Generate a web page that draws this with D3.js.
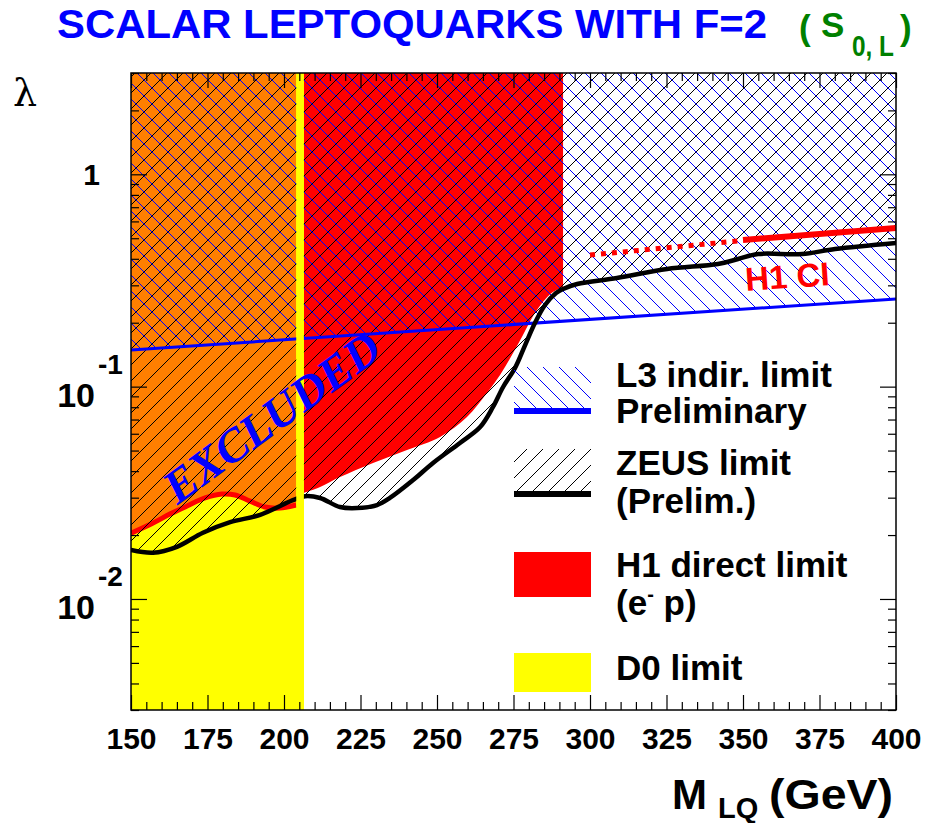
<!DOCTYPE html>
<html>
<head>
<meta charset="utf-8">
<script src="https://cdn.jsdelivr.net/npm/d3@7"></script>
<style>
  body { margin: 0; background: #fff; }
  svg { display: block; }
  text { font-family: "Liberation Sans", Arial, Helvetica, sans-serif; font-weight: bold; }
</style>
</head>
<body>
<svg id="chart" width="928" height="823"></svg>
<script>
// ---- Exclusion limits for scalar leptoquarks with F=2 (S_0,L) ----
// ZEUS (preliminary) upper limit on lambda vs leptoquark mass
const massZeus   = [150, 157.2, 165.0, 173.5, 182.4, 192.2, 202.9, 206.9, 211.8, 218.3, 223.9, 230.4, 234.6, 242.2, 248.7, 257.5, 264.1, 268.3, 271.6, 275.5, 278.8, 282.0, 285.3, 288.9, 291.2, 295.8, 308.8, 325.2, 341.8, 348.4, 354.9, 369.3, 380.1, 400];
const lambdaZeus = [0.0170, 0.0165, 0.0176, 0.0205, 0.0230, 0.0249, 0.0292, 0.0305, 0.0299, 0.0271, 0.0268, 0.0277, 0.0299, 0.0363, 0.0437, 0.0543, 0.0645, 0.0802, 0.0996, 0.1224, 0.157, 0.1994, 0.2424, 0.276, 0.2884, 0.3043, 0.3248, 0.3581, 0.3780, 0.3993, 0.4213, 0.4213, 0.4447, 0.4748];

// H1 direct limit (e- p): part overlapping the D0 exclusion, and the part beyond it
const massH1Low    = [150, 157.2, 162.7, 168.3, 174.2, 179.7, 184.0, 188.9, 193.8, 198.7, 204.0];
const lambdaH1Low  = [0.0204, 0.0228, 0.0251, 0.0274, 0.0299, 0.0312, 0.0309, 0.0289, 0.0271, 0.0268, 0.0277];
const massH1High   = [206.5, 211.8, 218.3, 229.1, 240.2, 251.0, 259.8, 266.3, 270.6, 274.5, 278.1, 281.4, 284.6, 287.9, 291.2];
const lambdaH1High = [0.0316, 0.0337, 0.0375, 0.0437, 0.0503, 0.0579, 0.0719, 0.0933, 0.1135, 0.1409, 0.1751, 0.2151, 0.2504, 0.2790, 0.2946];

// L3 indirect limit (preliminary)
const massL3   = [150, 400];
const lambdaL3 = [0.1488, 0.2586];

// H1 contact-interaction limit: dotted (extrapolated) and solid parts
const massCIDotted   = [300, 348.4];
const lambdaCIDotted = [0.4168, 0.4853];
const massCISolid    = [350, 400];
const lambdaCISolid  = [0.4905, 0.5586];

// D0 mass limit (all lambda excluded below it)
const d0MassLimit = 206.5;

// Axes
const massRange   = [150, 400];
const lambdaRange = [0.003, 3];
const xTicks = [150, 175, 200, 225, 250, 275, 300, 325, 350, 375, 400];
const yDecades = [1, 0.1, 0.01];
const yDecadeBase = ["1", "10", "10"];
const yDecadeExp  = ["", "-1", "-2"];

const legendLabels = [["L3 indir. limit", "Preliminary"], ["ZEUS limit", "(Prelim.)"], ["H1 direct limit", "(e"], ["D0 limit"]];

// ---- Layout ----
const svg = d3.select("#chart");
const x = d3.scaleLinear().domain(massRange).range([131, 896]);
const y = d3.scaleLog().domain(lambdaRange).range([710, 73]);
const lamTop = lambdaRange[1];

const colOrange = "#ff7f00", colRed = "#ff0000", colYellow = "#ffff00", colBlue = "#0000ff";

const defs = svg.append("defs");
defs.append("clipPath").attr("id", "plotClip")
  .append("rect").attr("x", 131).attr("y", 73).attr("width", 765).attr("height", 637);

const hs = 16;
const zeusPat = defs.append("pattern").attr("id", "hatchZeus")
  .attr("patternUnits", "userSpaceOnUse").attr("width", hs).attr("height", hs);
zeusPat.append("path")
  .attr("d", `M0,${hs} L${hs},0 M-4,4 L4,-4 M${hs-4},${hs+4} L${hs+4},${hs-4}`)
  .attr("stroke", "#000").attr("stroke-width", 1).attr("fill", "none");
const l3Pat = defs.append("pattern").attr("id", "hatchL3")
  .attr("patternUnits", "userSpaceOnUse").attr("width", hs).attr("height", hs);
l3Pat.append("path")
  .attr("d", `M0,0 L${hs},${hs} M-4,${hs-4} L4,${hs+4} M${hs-4},-4 L${hs+4},4`)
  .attr("stroke", colBlue).attr("stroke-width", 1).attr("fill", "none");

const zip = (ms, ls) => ms.map((m, i) => ({ m, l: ls[i] }));
const zeus = zip(massZeus, lambdaZeus);
const h1Low = zip(massH1Low, lambdaH1Low);
const h1High = zip(massH1High, lambdaH1High);
const l3 = zip(massL3, lambdaL3);

const areaAbove = d3.area().x(d => x(d.m)).y0(y(lamTop)).y1(d => y(d.l)).curve(d3.curveCatmullRom);
const lineOf = d3.line().x(d => x(d.m)).y(d => y(d.l)).curve(d3.curveCatmullRom);
const straight = d3.line().x(d => x(d.m)).y(d => y(d.l));

const plot = svg.append("g").attr("clip-path", "url(#plotClip)");

// D0 exclusion (full lambda range below its mass limit)
plot.append("rect")
  .attr("x", x(150)).attr("y", y(lamTop))
  .attr("width", x(d0MassLimit) - x(150)).attr("height", y(lambdaRange[0]) - y(lamTop))
  .attr("fill", colYellow);

// H1 direct exclusion
plot.append("path").datum(h1High).attr("d", areaAbove).attr("fill", colRed);
plot.append("path").datum(h1Low).attr("d", areaAbove).attr("fill", colOrange);
plot.append("path").datum(h1Low).attr("d", lineOf)
  .attr("fill", "none").attr("stroke", colRed).attr("stroke-width", 5);

// Hatched exclusions
plot.append("path").datum(zeus).attr("d", areaAbove).attr("fill", "url(#hatchZeus)");
plot.append("path").datum(l3).attr("d", d3.area().x(d => x(d.m)).y0(y(lamTop)).y1(d => y(d.l)))
  .attr("fill", "url(#hatchL3)");

// Limit curves
plot.append("path").datum(l3).attr("d", straight)
  .attr("fill", "none").attr("stroke", colBlue).attr("stroke-width", 3);
plot.append("path").datum(zeus).attr("d", lineOf)
  .attr("fill", "none").attr("stroke", "#000").attr("stroke-width", 4.5)
  .attr("stroke-linecap", "round");
plot.append("path").datum(zip(massCIDotted, lambdaCIDotted)).attr("d", straight)
  .attr("fill", "none").attr("stroke", colRed).attr("stroke-width", 5)
  .attr("stroke-dasharray", "5,6");
plot.append("path").datum(zip(massCISolid, lambdaCISolid)).attr("d", straight)
  .attr("fill", "none").attr("stroke", colRed).attr("stroke-width", 6);

// D0 edge strip drawn over everything in the plot
plot.append("rect")
  .attr("x", x(massH1Low[massH1Low.length - 1])).attr("y", y(lamTop))
  .attr("width", x(d0MassLimit) - x(massH1Low[massH1Low.length - 1]))
  .attr("height", y(lambdaRange[0]) - y(lamTop))
  .attr("fill", colYellow);

// "EXCLUDED" annotation
svg.append("text")
  .attr("transform", "translate(281,430) rotate(-36)")
  .attr("text-anchor", "middle")
  .style("font-family", "'Liberation Serif', 'Times New Roman', serif")
  .style("font-style", "italic")
  .style("font-weight", "bold")
  .style("font-size", "47px")
  .attr("fill", colBlue)
  .text("EXCLUDED");

// "H1 CI" annotation
svg.append("text")
  .attr("transform", "translate(746,291) rotate(-4)")
  .style("font-size", "33px")
  .attr("fill", colRed)
  .text("H1 CI");

// ---- Frame and ticks ----
const xMinor = d3.range(150, 401, 5).filter(v => v % 25 !== 0);
const yMinor = [];
[0.001, 0.01, 0.1, 1].forEach(dec => d3.range(2, 10).forEach(k => {
  const v = k * dec; if (v >= lambdaRange[0] && v <= lambdaRange[1]) yMinor.push(v);
}));

const axisG = svg.append("g");
function styleAxis(g) {
  g.select(".domain").remove();
  g.selectAll("line").attr("stroke", "#000").attr("stroke-width", 1.2);
}
axisG.append("g").attr("transform", "translate(0,710)")
  .call(d3.axisBottom(x).tickValues(xMinor).tickSize(-8).tickFormat("")).call(styleAxis);
axisG.append("g").attr("transform", "translate(0,710)")
  .call(d3.axisBottom(x).tickValues(xTicks).tickSize(-15).tickPadding(18).tickFormat(d3.format("d")))
  .call(styleAxis)
  .call(g => g.selectAll("text").attr("fill", "#000")
    .style("font-size", "30px").style("font-family", "'Liberation Sans', Arial, sans-serif")
    .style("font-weight", "bold"));
axisG.append("g").attr("transform", "translate(0,73)")
  .call(d3.axisTop(x).tickValues(xMinor).tickSize(-8).tickFormat("")).call(styleAxis);
axisG.append("g").attr("transform", "translate(0,73)")
  .call(d3.axisTop(x).tickValues(xTicks).tickSize(-15).tickFormat("")).call(styleAxis);
axisG.append("g").attr("transform", "translate(131,0)")
  .call(d3.axisLeft(y).tickValues(yMinor).tickSize(-8).tickFormat("")).call(styleAxis);
axisG.append("g").attr("transform", "translate(131,0)")
  .call(d3.axisLeft(y).tickValues(yDecades).tickSize(-16).tickFormat("")).call(styleAxis);
axisG.append("g").attr("transform", "translate(896,0)")
  .call(d3.axisRight(y).tickValues(yMinor).tickSize(-8).tickFormat("")).call(styleAxis);
axisG.append("g").attr("transform", "translate(896,0)")
  .call(d3.axisRight(y).tickValues(yDecades).tickSize(-16).tickFormat("")).call(styleAxis);

svg.append("rect").attr("x", 131).attr("y", 73).attr("width", 765).attr("height", 637)
  .attr("fill", "none").attr("stroke", "#000").attr("stroke-width", 1.5);

// Y tick labels (powers of ten)
yDecades.forEach((v, i) => {
  const ty = y(v);
  if (yDecadeExp[i] === "") {
    svg.append("text").attr("x", 100).attr("y", ty + 11).attr("text-anchor", "end")
      .style("font-size", "30px").text(yDecadeBase[i]);
  } else {
    svg.append("text").attr("x", 95).attr("y", ty + 20).attr("text-anchor", "end")
      .style("font-size", "34px").text(yDecadeBase[i]);
    svg.append("text").attr("x", 98).attr("y", ty - 13)
      .style("font-size", "28px").text(yDecadeExp[i]);
  }
});

// Axis titles
svg.append("text").attr("x", 13).attr("y", 106)
  .style("font-family", "'DejaVu Serif', 'Liberation Serif', serif").style("font-weight", "normal")
  .style("font-size", "38px").text("λ");
svg.append("text").attr("x", 672).attr("y", 809).style("font-size", "42px").text("M");
svg.append("text").attr("x", 718).attr("y", 818).style("font-size", "29px").text("LQ");
svg.append("text").attr("x", 769).attr("y", 809).style("font-size", "42px")
  .attr("textLength", 124).attr("lengthAdjust", "spacingAndGlyphs").text("(GeV)");

// Title
svg.append("text").attr("x", 57).attr("y", 38).style("font-size", "41px")
  .attr("textLength", 710).attr("lengthAdjust", "spacingAndGlyphs")
  .attr("fill", colBlue).text("SCALAR LEPTOQUARKS WITH F=2");
const green = "#008000";
svg.append("text").attr("x", 799).attr("y", 40).style("font-size", "35px").attr("fill", green).text("(");
svg.append("text").attr("x", 821).attr("y", 37).style("font-size", "35px").attr("fill", green).text("S");
svg.append("text").attr("x", 852).attr("y", 56).style("font-size", "29px").attr("fill", green)
  .attr("textLength", 42).attr("lengthAdjust", "spacingAndGlyphs").text("0, L");
svg.append("text").attr("x", 900).attr("y", 40).style("font-size", "35px").attr("fill", green).text(")");

// ---- Legend ----
const lx = 514, lw = 77, tx = 616;
const leg = svg.append("g");
leg.append("rect").attr("x", lx).attr("y", 367).attr("width", lw).attr("height", 44).attr("fill", "url(#hatchL3)");
leg.append("line").attr("x1", lx).attr("x2", lx + lw).attr("y1", 411).attr("y2", 411)
  .attr("stroke", colBlue).attr("stroke-width", 6);
leg.append("rect").attr("x", lx).attr("y", 449).attr("width", lw).attr("height", 45).attr("fill", "url(#hatchZeus)");
leg.append("line").attr("x1", lx).attr("x2", lx + lw).attr("y1", 494).attr("y2", 494)
  .attr("stroke", "#000").attr("stroke-width", 6);
leg.append("rect").attr("x", lx).attr("y", 552).attr("width", lw).attr("height", 45).attr("fill", colRed);
leg.append("rect").attr("x", lx).attr("y", 653).attr("width", lw).attr("height", 39).attr("fill", colYellow);

const legFont = "35px";
leg.append("text").attr("x", tx).attr("y", 387).style("font-size", legFont).text(legendLabels[0][0]);
leg.append("text").attr("x", tx).attr("y", 423).style("font-size", legFont).text(legendLabels[0][1]);
leg.append("text").attr("x", tx).attr("y", 475).style("font-size", legFont).text(legendLabels[1][0]);
leg.append("text").attr("x", tx).attr("y", 513).style("font-size", legFont).text(legendLabels[1][1]);
leg.append("text").attr("x", tx).attr("y", 577).style("font-size", legFont).text(legendLabels[2][0]);
const ep = leg.append("text").attr("x", tx).attr("y", 615).style("font-size", legFont);
ep.append("tspan").text(legendLabels[2][1]);
ep.append("tspan").attr("dy", -14).style("font-size", "20px").text("-");
ep.append("tspan").attr("dy", 14).text(" p)");
leg.append("text").attr("x", tx).attr("y", 680).style("font-size", legFont).text(legendLabels[3][0]);
</script>
</body>
</html>
